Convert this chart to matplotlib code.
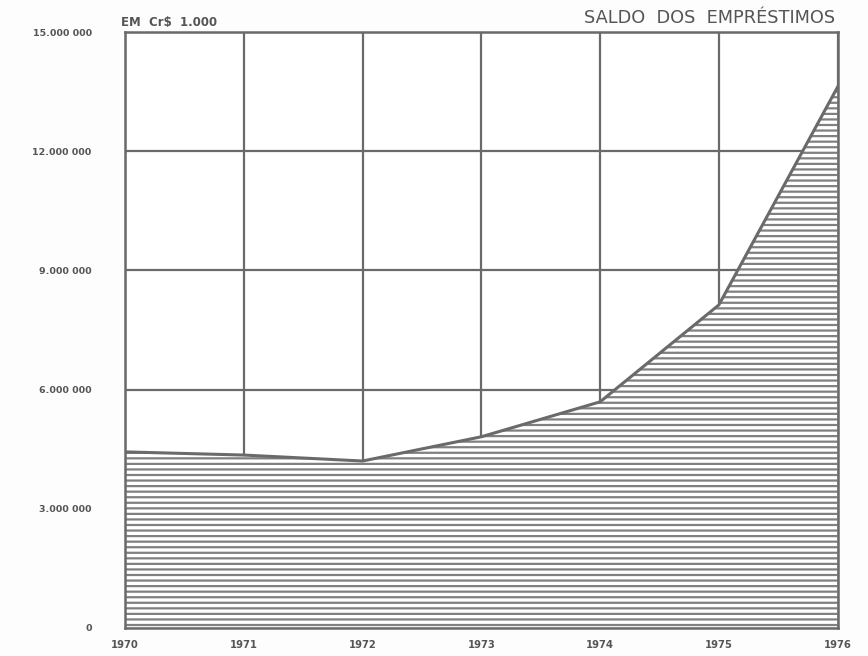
import matplotlib
matplotlib.use('Agg')
import matplotlib.pyplot as plt

years = [1970, 1971, 1972, 1973, 1974, 1975, 1976]
saldo = [4430000, 4350000, 4200000, 4810000, 5690000, 8130000, 13620000]
yticks = [0, 3000000, 6000000, 9000000, 12000000, 15000000]
ylabels = ['0', '3.000 000', '6.000 000', '9.000 000', '12.000 000', '15.000 000']
xlabels = [str(y) for y in years]

ink = '#6a6a6a'
plt.rcParams['hatch.color'] = '#808080'
plt.rcParams['hatch.linewidth'] = 1.6

fig = plt.figure(figsize=(8.68, 6.56), dpi=100)
ax = fig.add_axes([0.144, 0.043, 0.821, 0.908])

ax.fill_between(years, 0, saldo, facecolor='white', edgecolor='none', hatch='---', zorder=2)
ax.plot(years, saldo, color=ink, lw=2.2, zorder=3)

ax.set_xlim(years[0], years[-1])
ax.set_ylim(0, 15000000)
ax.set_xticks(years)
ax.set_xticklabels(xlabels)
ax.set_yticks(yticks)
ax.set_yticklabels(ylabels)
ax.grid(True, color=ink, lw=1.6, zorder=1)
ax.set_axisbelow(True)
for s in ax.spines.values():
    s.set_color(ink)
    s.set_linewidth(1.8)
ax.tick_params(axis='both', length=0, colors='#555555', labelsize=6.8)
ax.tick_params(axis='x', pad=9, labelsize=7.2)
ax.tick_params(axis='y', pad=24)
for lab in ax.get_xticklabels() + ax.get_yticklabels():
    lab.set_fontweight('bold')

ax.text(-0.006, 1.005, 'EM  Cr$  1.000', transform=ax.transAxes, fontsize=8.5,
        fontweight='bold', color='#555555', ha='left', va='bottom')
ax.text(0.997, 1.008, 'SALDO  DOS  EMPRÉSTIMOS', transform=ax.transAxes, fontsize=12.8,
        color='#555555', ha='right', va='bottom')

fig.savefig('out.png', dpi=100, facecolor='#fdfdfd')
